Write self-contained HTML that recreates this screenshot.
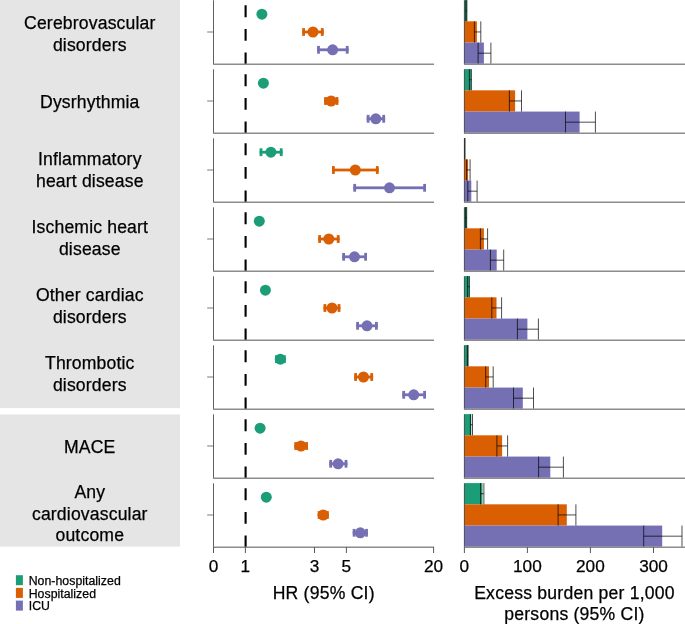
<!DOCTYPE html>
<html><head><meta charset="utf-8"><title>Figure</title>
<style>html,body{margin:0;padding:0;background:#fff}svg{display:block}text{stroke:#000;stroke-width:0.25px}</style></head>
<body>
<svg width="685" height="624" viewBox="0 0 685 624" font-family="'Liberation Sans', Arial, Helvetica, sans-serif" fill="#000">
<rect width="685" height="624" fill="#fff"/>
<rect x="0" y="0" width="180" height="408.1" fill="#e5e5e5"/>
<rect x="0" y="414.4" width="180" height="132.2" fill="#e5e5e5"/>
<text x="89.8" y="29.4" font-size="17.6" letter-spacing="0.16" text-anchor="middle">Cerebrovascular</text>
<text x="89.8" y="50.6" font-size="17.6" letter-spacing="0.16" text-anchor="middle">disorders</text>
<text x="89.8" y="108.0" font-size="17.6" letter-spacing="0.16" text-anchor="middle">Dysrhythmia</text>
<text x="89.8" y="165.3" font-size="17.6" letter-spacing="0.16" text-anchor="middle">Inflammatory</text>
<text x="89.8" y="186.7" font-size="17.6" letter-spacing="0.16" text-anchor="middle">heart disease</text>
<text x="89.8" y="233.3" font-size="17.6" letter-spacing="0.16" text-anchor="middle">Ischemic heart</text>
<text x="89.8" y="254.7" font-size="17.6" letter-spacing="0.16" text-anchor="middle">disease</text>
<text x="89.8" y="301.4" font-size="17.6" letter-spacing="0.16" text-anchor="middle">Other cardiac</text>
<text x="89.8" y="322.6" font-size="17.6" letter-spacing="0.16" text-anchor="middle">disorders</text>
<text x="89.8" y="369.4" font-size="17.6" letter-spacing="0.16" text-anchor="middle">Thrombotic</text>
<text x="89.8" y="390.6" font-size="17.6" letter-spacing="0.16" text-anchor="middle">disorders</text>
<text x="89.8" y="453.4" font-size="17.6" letter-spacing="0.16" text-anchor="middle">MACE</text>
<text x="89.8" y="498.2" font-size="17.6" letter-spacing="0.16" text-anchor="middle">Any</text>
<text x="89.8" y="519.5" font-size="17.6" letter-spacing="0.16" text-anchor="middle">cardiovascular</text>
<text x="89.8" y="540.8" font-size="17.6" letter-spacing="0.16" text-anchor="middle">outcome</text>
<line x1="245.6" y1="64.25" x2="245.6" y2="0.30" stroke="#000" stroke-width="2.1" stroke-dasharray="11.8 11.75"/>
<line x1="207.2" y1="32" x2="213.5" y2="32" stroke="#858585" stroke-width="1.1"/>
<line x1="213.5" y1="0.30" x2="213.5" y2="64.25" stroke="#4d4d4d" stroke-width="0.9"/>
<line x1="213.1" y1="64.25" x2="434.0" y2="64.25" stroke="#8c8c8c" stroke-width="1.3"/>
<circle cx="261.9" cy="14.20" r="5.5" fill="#1B9E77"/>
<rect x="302.20" y="30.60" width="21.50" height="2.8" fill="#D95F02"/>
<rect x="302.20" y="28.10" width="2.8" height="7.8" fill="#D95F02"/>
<rect x="320.90" y="28.10" width="2.8" height="7.8" fill="#D95F02"/>
<circle cx="313.0" cy="32.00" r="5.5" fill="#D95F02"/>
<rect x="317.10" y="48.40" width="31.50" height="2.8" fill="#7570B3"/>
<rect x="317.10" y="45.90" width="2.8" height="7.8" fill="#7570B3"/>
<rect x="345.80" y="45.90" width="2.8" height="7.8" fill="#7570B3"/>
<circle cx="332.65" cy="49.80" r="5.5" fill="#7570B3"/>
<line x1="245.6" y1="133.25" x2="245.6" y2="69.30" stroke="#000" stroke-width="2.1" stroke-dasharray="11.8 11.75"/>
<line x1="207.2" y1="101" x2="213.5" y2="101" stroke="#858585" stroke-width="1.1"/>
<line x1="213.5" y1="69.30" x2="213.5" y2="133.25" stroke="#4d4d4d" stroke-width="0.9"/>
<line x1="213.1" y1="133.25" x2="434.0" y2="133.25" stroke="#8c8c8c" stroke-width="1.3"/>
<circle cx="263.4" cy="83.20" r="5.5" fill="#1B9E77"/>
<rect x="324.10" y="99.60" width="14.30" height="2.8" fill="#D95F02"/>
<rect x="324.10" y="97.10" width="2.8" height="7.8" fill="#D95F02"/>
<rect x="335.60" y="97.10" width="2.8" height="7.8" fill="#D95F02"/>
<circle cx="331.1" cy="101.00" r="5.5" fill="#D95F02"/>
<rect x="366.70" y="117.40" width="18.40" height="2.8" fill="#7570B3"/>
<rect x="366.70" y="114.90" width="2.8" height="7.8" fill="#7570B3"/>
<rect x="382.30" y="114.90" width="2.8" height="7.8" fill="#7570B3"/>
<circle cx="375.8" cy="118.80" r="5.5" fill="#7570B3"/>
<line x1="245.6" y1="202.25" x2="245.6" y2="138.30" stroke="#000" stroke-width="2.1" stroke-dasharray="11.8 11.75"/>
<line x1="207.2" y1="170" x2="213.5" y2="170" stroke="#858585" stroke-width="1.1"/>
<line x1="213.5" y1="138.30" x2="213.5" y2="202.25" stroke="#4d4d4d" stroke-width="0.9"/>
<line x1="213.1" y1="202.25" x2="434.0" y2="202.25" stroke="#8c8c8c" stroke-width="1.3"/>
<rect x="259.60" y="150.80" width="23.00" height="2.8" fill="#1B9E77"/>
<rect x="259.60" y="148.30" width="2.8" height="7.8" fill="#1B9E77"/>
<rect x="279.80" y="148.30" width="2.8" height="7.8" fill="#1B9E77"/>
<circle cx="270.9" cy="152.20" r="5.5" fill="#1B9E77"/>
<rect x="332.00" y="168.60" width="46.70" height="2.8" fill="#D95F02"/>
<rect x="332.00" y="166.10" width="2.8" height="7.8" fill="#D95F02"/>
<rect x="375.90" y="166.10" width="2.8" height="7.8" fill="#D95F02"/>
<circle cx="355.3" cy="170.00" r="5.5" fill="#D95F02"/>
<rect x="353.30" y="186.40" width="72.70" height="2.8" fill="#7570B3"/>
<rect x="353.30" y="183.90" width="2.8" height="7.8" fill="#7570B3"/>
<rect x="423.20" y="183.90" width="2.8" height="7.8" fill="#7570B3"/>
<circle cx="389.5" cy="187.80" r="5.5" fill="#7570B3"/>
<line x1="245.6" y1="271.25" x2="245.6" y2="207.30" stroke="#000" stroke-width="2.1" stroke-dasharray="11.8 11.75"/>
<line x1="207.2" y1="239" x2="213.5" y2="239" stroke="#858585" stroke-width="1.1"/>
<line x1="213.5" y1="207.30" x2="213.5" y2="271.25" stroke="#4d4d4d" stroke-width="0.9"/>
<line x1="213.1" y1="271.25" x2="434.0" y2="271.25" stroke="#8c8c8c" stroke-width="1.3"/>
<circle cx="259.3" cy="221.20" r="5.5" fill="#1B9E77"/>
<rect x="318.20" y="237.60" width="21.40" height="2.8" fill="#D95F02"/>
<rect x="318.20" y="235.10" width="2.8" height="7.8" fill="#D95F02"/>
<rect x="336.80" y="235.10" width="2.8" height="7.8" fill="#D95F02"/>
<circle cx="328.8" cy="239.00" r="5.5" fill="#D95F02"/>
<rect x="342.20" y="255.40" width="24.80" height="2.8" fill="#7570B3"/>
<rect x="342.20" y="252.90" width="2.8" height="7.8" fill="#7570B3"/>
<rect x="364.20" y="252.90" width="2.8" height="7.8" fill="#7570B3"/>
<circle cx="354.5" cy="256.80" r="5.5" fill="#7570B3"/>
<line x1="245.6" y1="340.25" x2="245.6" y2="276.30" stroke="#000" stroke-width="2.1" stroke-dasharray="11.8 11.75"/>
<line x1="207.2" y1="308" x2="213.5" y2="308" stroke="#858585" stroke-width="1.1"/>
<line x1="213.5" y1="276.30" x2="213.5" y2="340.25" stroke="#4d4d4d" stroke-width="0.9"/>
<line x1="213.1" y1="340.25" x2="434.0" y2="340.25" stroke="#8c8c8c" stroke-width="1.3"/>
<circle cx="265.4" cy="290.20" r="5.5" fill="#1B9E77"/>
<rect x="323.50" y="306.60" width="16.90" height="2.8" fill="#D95F02"/>
<rect x="323.50" y="304.10" width="2.8" height="7.8" fill="#D95F02"/>
<rect x="337.60" y="304.10" width="2.8" height="7.8" fill="#D95F02"/>
<circle cx="332.0" cy="308.00" r="5.5" fill="#D95F02"/>
<rect x="356.20" y="324.40" width="21.60" height="2.8" fill="#7570B3"/>
<rect x="356.20" y="321.90" width="2.8" height="7.8" fill="#7570B3"/>
<rect x="375.00" y="321.90" width="2.8" height="7.8" fill="#7570B3"/>
<circle cx="367.0" cy="325.80" r="5.5" fill="#7570B3"/>
<line x1="245.6" y1="409.25" x2="245.6" y2="345.30" stroke="#000" stroke-width="2.1" stroke-dasharray="11.8 11.75"/>
<line x1="207.2" y1="377" x2="213.5" y2="377" stroke="#858585" stroke-width="1.1"/>
<line x1="213.5" y1="345.30" x2="213.5" y2="409.25" stroke="#4d4d4d" stroke-width="0.9"/>
<line x1="213.1" y1="409.25" x2="434.0" y2="409.25" stroke="#8c8c8c" stroke-width="1.3"/>
<rect x="275.00" y="357.80" width="10.80" height="2.8" fill="#1B9E77"/>
<rect x="275.00" y="355.30" width="2.8" height="7.8" fill="#1B9E77"/>
<rect x="283.00" y="355.30" width="2.8" height="7.8" fill="#1B9E77"/>
<circle cx="280.3" cy="359.20" r="5.5" fill="#1B9E77"/>
<rect x="354.20" y="375.60" width="18.90" height="2.8" fill="#D95F02"/>
<rect x="354.20" y="373.10" width="2.8" height="7.8" fill="#D95F02"/>
<rect x="370.30" y="373.10" width="2.8" height="7.8" fill="#D95F02"/>
<circle cx="363.5" cy="377.00" r="5.5" fill="#D95F02"/>
<rect x="402.30" y="393.40" width="23.70" height="2.8" fill="#7570B3"/>
<rect x="402.30" y="390.90" width="2.8" height="7.8" fill="#7570B3"/>
<rect x="423.20" y="390.90" width="2.8" height="7.8" fill="#7570B3"/>
<circle cx="413.7" cy="394.80" r="5.5" fill="#7570B3"/>
<line x1="245.6" y1="478.25" x2="245.6" y2="414.30" stroke="#000" stroke-width="2.1" stroke-dasharray="11.8 11.75"/>
<line x1="207.2" y1="446" x2="213.5" y2="446" stroke="#858585" stroke-width="1.1"/>
<line x1="213.5" y1="414.30" x2="213.5" y2="478.25" stroke="#4d4d4d" stroke-width="0.9"/>
<line x1="213.1" y1="478.25" x2="434.0" y2="478.25" stroke="#8c8c8c" stroke-width="1.3"/>
<circle cx="260.1" cy="428.20" r="5.5" fill="#1B9E77"/>
<rect x="294.30" y="444.60" width="13.70" height="2.8" fill="#D95F02"/>
<rect x="294.30" y="442.10" width="2.8" height="7.8" fill="#D95F02"/>
<rect x="305.20" y="442.10" width="2.8" height="7.8" fill="#D95F02"/>
<circle cx="301.0" cy="446.00" r="5.5" fill="#D95F02"/>
<rect x="329.30" y="462.40" width="18.10" height="2.8" fill="#7570B3"/>
<rect x="329.30" y="459.90" width="2.8" height="7.8" fill="#7570B3"/>
<rect x="344.60" y="459.90" width="2.8" height="7.8" fill="#7570B3"/>
<circle cx="338.1" cy="463.80" r="5.5" fill="#7570B3"/>
<line x1="245.6" y1="547.25" x2="245.6" y2="483.30" stroke="#000" stroke-width="2.1" stroke-dasharray="11.8 11.75"/>
<line x1="207.2" y1="515" x2="213.5" y2="515" stroke="#858585" stroke-width="1.1"/>
<line x1="213.5" y1="483.30" x2="213.5" y2="547.25" stroke="#4d4d4d" stroke-width="0.9"/>
<line x1="213.1" y1="547.25" x2="434.0" y2="547.25" stroke="#8c8c8c" stroke-width="1.3"/>
<circle cx="266.3" cy="497.20" r="5.5" fill="#1B9E77"/>
<rect x="317.70" y="513.60" width="11.10" height="2.8" fill="#D95F02"/>
<rect x="317.70" y="511.10" width="2.8" height="7.8" fill="#D95F02"/>
<rect x="326.00" y="511.10" width="2.8" height="7.8" fill="#D95F02"/>
<circle cx="323.2" cy="515.00" r="5.5" fill="#D95F02"/>
<rect x="352.70" y="531.40" width="15.20" height="2.8" fill="#7570B3"/>
<rect x="352.70" y="528.90" width="2.8" height="7.8" fill="#7570B3"/>
<rect x="365.10" y="528.90" width="2.8" height="7.8" fill="#7570B3"/>
<circle cx="360.3" cy="532.80" r="5.5" fill="#7570B3"/>
<line x1="213.5" y1="547.2" x2="213.5" y2="553" stroke="#444" stroke-width="0.9"/>
<text x="213.5" y="571.9" font-size="17.2" text-anchor="middle">0</text>
<line x1="245.4" y1="547.2" x2="245.4" y2="553" stroke="#444" stroke-width="0.9"/>
<text x="245.4" y="571.9" font-size="17.2" text-anchor="middle">1</text>
<line x1="314.5" y1="547.2" x2="314.5" y2="553" stroke="#444" stroke-width="0.9"/>
<text x="314.5" y="571.9" font-size="17.2" text-anchor="middle">3</text>
<line x1="346.4" y1="547.2" x2="346.4" y2="553" stroke="#444" stroke-width="0.9"/>
<text x="346.4" y="571.9" font-size="17.2" text-anchor="middle">5</text>
<line x1="433.6" y1="547.2" x2="433.6" y2="553" stroke="#444" stroke-width="0.9"/>
<text x="433.6" y="571.9" font-size="17.2" text-anchor="middle">20</text>
<text x="323.7" y="598.6" font-size="17.6" letter-spacing="0.22" text-anchor="middle">HR (95% CI)</text>
<rect x="464.4" y="0.10" width="2.50" height="21.23" fill="#1B9E77"/>
<rect x="464.4" y="21.33" width="12.50" height="21.23" fill="#D95F02"/>
<rect x="464.4" y="42.57" width="19.50" height="21.23" fill="#7570B3"/>
<path d="M465.80 0.10V21.33M466.90 0.10V21.33M465.80 10.72H466.90" stroke="#000" stroke-width="0.7" fill="none"/>
<path d="M474.40 21.33V42.57M480.80 21.33V42.57M474.40 31.95H480.80" stroke="#000" stroke-width="0.7" fill="none"/>
<path d="M478.10 42.57V63.80M490.90 42.57V63.80M478.10 53.18H490.90" stroke="#000" stroke-width="0.7" fill="none"/>
<line x1="464.4" y1="0.30" x2="464.4" y2="64.25" stroke="#333" stroke-width="0.8"/>
<line x1="464.0" y1="64.25" x2="685" y2="64.25" stroke="#8c8c8c" stroke-width="1.3"/>
<rect x="464.4" y="69.10" width="6.80" height="21.23" fill="#1B9E77"/>
<rect x="464.4" y="90.33" width="50.70" height="21.23" fill="#D95F02"/>
<rect x="464.4" y="111.57" width="115.20" height="21.23" fill="#7570B3"/>
<path d="M469.40 69.10V90.33M471.40 69.10V90.33M469.40 79.72H471.40" stroke="#000" stroke-width="0.7" fill="none"/>
<path d="M509.40 90.33V111.57M521.50 90.33V111.57M509.40 100.95H521.50" stroke="#000" stroke-width="0.7" fill="none"/>
<path d="M565.50 111.57V132.80M595.40 111.57V132.80M565.50 122.18H595.40" stroke="#000" stroke-width="0.7" fill="none"/>
<line x1="464.4" y1="69.30" x2="464.4" y2="133.25" stroke="#333" stroke-width="0.8"/>
<line x1="464.0" y1="133.25" x2="685" y2="133.25" stroke="#8c8c8c" stroke-width="1.3"/>
<rect x="464.4" y="138.10" width="0.50" height="21.23" fill="#1B9E77"/>
<rect x="464.4" y="159.33" width="3.70" height="21.23" fill="#D95F02"/>
<rect x="464.4" y="180.57" width="6.90" height="21.23" fill="#7570B3"/>
<path d="M464.60 138.10V159.33M465.00 138.10V159.33M464.60 148.72H465.00" stroke="#000" stroke-width="0.7" fill="none"/>
<path d="M466.60 159.33V180.57M470.10 159.33V180.57M466.60 169.95H470.10" stroke="#000" stroke-width="0.7" fill="none"/>
<path d="M467.80 180.57V201.80M477.10 180.57V201.80M467.80 191.18H477.10" stroke="#000" stroke-width="0.7" fill="none"/>
<line x1="464.4" y1="138.30" x2="464.4" y2="202.25" stroke="#333" stroke-width="0.8"/>
<line x1="464.0" y1="202.25" x2="685" y2="202.25" stroke="#8c8c8c" stroke-width="1.3"/>
<rect x="464.4" y="207.10" width="2.30" height="21.23" fill="#1B9E77"/>
<rect x="464.4" y="228.33" width="19.50" height="21.23" fill="#D95F02"/>
<rect x="464.4" y="249.57" width="32.30" height="21.23" fill="#7570B3"/>
<path d="M465.60 207.10V228.33M466.70 207.10V228.33M465.60 217.72H466.70" stroke="#000" stroke-width="0.7" fill="none"/>
<path d="M480.40 228.33V249.57M487.60 228.33V249.57M480.40 238.95H487.60" stroke="#000" stroke-width="0.7" fill="none"/>
<path d="M490.40 249.57V270.80M503.70 249.57V270.80M490.40 260.18H503.70" stroke="#000" stroke-width="0.7" fill="none"/>
<line x1="464.4" y1="207.30" x2="464.4" y2="271.25" stroke="#333" stroke-width="0.8"/>
<line x1="464.0" y1="271.25" x2="685" y2="271.25" stroke="#8c8c8c" stroke-width="1.3"/>
<rect x="464.4" y="276.10" width="5.00" height="21.23" fill="#1B9E77"/>
<rect x="464.4" y="297.33" width="32.10" height="21.23" fill="#D95F02"/>
<rect x="464.4" y="318.57" width="63.00" height="21.23" fill="#7570B3"/>
<path d="M467.60 276.10V297.33M469.40 276.10V297.33M467.60 286.72H469.40" stroke="#000" stroke-width="0.7" fill="none"/>
<path d="M491.80 297.33V318.57M501.60 297.33V318.57M491.80 307.95H501.60" stroke="#000" stroke-width="0.7" fill="none"/>
<path d="M517.40 318.57V339.80M538.40 318.57V339.80M517.40 329.18H538.40" stroke="#000" stroke-width="0.7" fill="none"/>
<line x1="464.4" y1="276.30" x2="464.4" y2="340.25" stroke="#333" stroke-width="0.8"/>
<line x1="464.0" y1="340.25" x2="685" y2="340.25" stroke="#8c8c8c" stroke-width="1.3"/>
<rect x="464.4" y="345.10" width="3.70" height="21.23" fill="#1B9E77"/>
<rect x="464.4" y="366.33" width="24.60" height="21.23" fill="#D95F02"/>
<rect x="464.4" y="387.57" width="58.40" height="21.23" fill="#7570B3"/>
<path d="M467.30 345.10V366.33M468.10 345.10V366.33M467.30 355.72H468.10" stroke="#000" stroke-width="0.7" fill="none"/>
<path d="M485.70 366.33V387.57M493.20 366.33V387.57M485.70 376.95H493.20" stroke="#000" stroke-width="0.7" fill="none"/>
<path d="M513.50 387.57V408.80M533.50 387.57V408.80M513.50 398.18H533.50" stroke="#000" stroke-width="0.7" fill="none"/>
<line x1="464.4" y1="345.30" x2="464.4" y2="409.25" stroke="#333" stroke-width="0.8"/>
<line x1="464.0" y1="409.25" x2="685" y2="409.25" stroke="#8c8c8c" stroke-width="1.3"/>
<rect x="464.4" y="414.10" width="6.90" height="21.23" fill="#1B9E77"/>
<rect x="464.4" y="435.33" width="37.70" height="21.23" fill="#D95F02"/>
<rect x="464.4" y="456.57" width="85.90" height="21.23" fill="#7570B3"/>
<path d="M470.40 414.10V435.33M472.50 414.10V435.33M470.40 424.72H472.50" stroke="#000" stroke-width="0.7" fill="none"/>
<path d="M496.90 435.33V456.57M507.60 435.33V456.57M496.90 445.95H507.60" stroke="#000" stroke-width="0.7" fill="none"/>
<path d="M538.60 456.57V477.80M563.40 456.57V477.80M538.60 467.18H563.40" stroke="#000" stroke-width="0.7" fill="none"/>
<line x1="464.4" y1="414.30" x2="464.4" y2="478.25" stroke="#333" stroke-width="0.8"/>
<line x1="464.0" y1="478.25" x2="685" y2="478.25" stroke="#8c8c8c" stroke-width="1.3"/>
<rect x="464.4" y="483.10" width="18.10" height="21.23" fill="#1B9E77"/>
<rect x="464.4" y="504.33" width="102.40" height="21.23" fill="#D95F02"/>
<rect x="464.4" y="525.57" width="197.80" height="21.23" fill="#7570B3"/>
<path d="M480.50 483.10V504.33M483.90 483.10V504.33M480.50 493.72H483.90" stroke="#000" stroke-width="0.7" fill="none"/>
<path d="M558.10 504.33V525.57M575.90 504.33V525.57M558.10 514.95H575.90" stroke="#000" stroke-width="0.7" fill="none"/>
<path d="M643.70 525.57V546.80M682.00 525.57V546.80M643.70 536.18H682.00" stroke="#000" stroke-width="0.7" fill="none"/>
<line x1="464.4" y1="483.30" x2="464.4" y2="547.25" stroke="#333" stroke-width="0.8"/>
<line x1="464.0" y1="547.25" x2="685" y2="547.25" stroke="#8c8c8c" stroke-width="1.3"/>
<line x1="464.4" y1="547.2" x2="464.4" y2="553" stroke="#444" stroke-width="0.9"/>
<text x="464.4" y="571.9" font-size="17.2" text-anchor="middle">0</text>
<line x1="527.4" y1="547.2" x2="527.4" y2="553" stroke="#444" stroke-width="0.9"/>
<text x="527.4" y="571.9" font-size="17.2" text-anchor="middle">100</text>
<line x1="590.4" y1="547.2" x2="590.4" y2="553" stroke="#444" stroke-width="0.9"/>
<text x="590.4" y="571.9" font-size="17.2" text-anchor="middle">200</text>
<line x1="653.5" y1="547.2" x2="653.5" y2="553" stroke="#444" stroke-width="0.9"/>
<text x="653.5" y="571.9" font-size="17.2" text-anchor="middle">300</text>
<text x="574.5" y="598.6" font-size="17.6" letter-spacing="0.22" text-anchor="middle">Excess burden per 1,000</text>
<text x="574.5" y="620.2" font-size="17.6" letter-spacing="0.22" text-anchor="middle">persons (95% CI)</text>
<rect x="15.9" y="575.2" width="7" height="10" fill="#1B9E77"/>
<text x="28.7" y="585.0" font-size="12.3" letter-spacing="0.03">Non-hospitalized</text>
<rect x="15.9" y="587.9" width="7" height="10" fill="#D95F02"/>
<text x="28.7" y="597.5" font-size="12.3" letter-spacing="0.03">Hospitalized</text>
<rect x="15.9" y="600.6" width="7" height="10" fill="#7570B3"/>
<text x="28.7" y="610.0" font-size="12.3" letter-spacing="0.03">ICU</text>
</svg>
</body></html>
